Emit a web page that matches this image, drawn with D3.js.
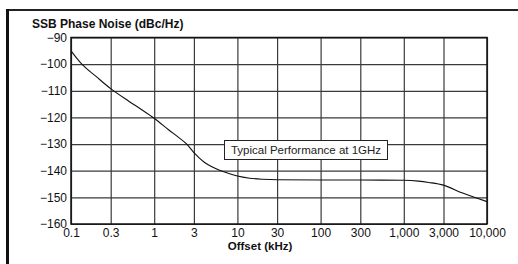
<!DOCTYPE html>
<html>
<head>
<meta charset="utf-8">
<script src="https://cdn.jsdelivr.net/npm/d3@7"></script>
<style>
  body { margin: 0; background: #fff; }
  svg { display: block; font-family: Arial, "Liberation Sans", Helvetica, sans-serif; }
  .grid line { stroke: #3a3a3a; stroke-width: 1.2; }
  .grid path { display: none; }
  .grid text { fill: #111; font-size: 12px; }
</style>
</head>
<body>
<svg width="518" height="264"></svg>
<script>
// offset in kHz and SSB phase noise in dBc/Hz
const offsets = [0.1, 0.135, 0.2, 0.3, 0.5, 0.7, 1, 1.5, 2, 2.46, 3, 4, 5, 6, 7, 10, 14, 20, 30, 100, 300, 1000, 1500, 2000, 3000, 5000, 10000];
const noise   = [-95, -100, -104.6, -109.2, -114, -117, -120.3, -124.7, -127.7, -130, -133.2, -136.8, -138.6, -139.7, -140.5, -142, -142.8, -143.2, -143.4, -143.5, -143.5, -143.6, -143.9, -144.4, -145.4, -148.3, -151.6];

const xTicks = [0.1, 0.3, 1, 3, 10, 30, 100, 300, 1000, 3000, 10000];
const xTickLabels = ["0.1", "0.3", "1", "3", "10", "30", "100", "300", "1,000", "3,000", "10,000"];
const yTicks = [-90, -100, -110, -120, -130, -140, -150, -160];

const svg = d3.select("svg");
const plotL = 71, plotR = 487, plotT = 37.5, plotB = 224;

const x = d3.scaleLog().domain([0.1, 10000]).range([plotL, plotR]);
const y = d3.scaleLinear().domain([-160, -90]).range([plotB, plotT]);

// outer frame (top and left only)
svg.append("line")
  .attr("x1", 7).attr("x2", 518).attr("y1", 10).attr("y2", 10)
  .attr("stroke", "#222").attr("stroke-width", 2);
svg.append("line")
  .attr("x1", 7.5).attr("x2", 7.5).attr("y1", 9).attr("y2", 264)
  .attr("stroke", "#111").attr("stroke-width", 3);

// grids + tick labels
svg.append("g")
  .attr("class", "grid")
  .attr("transform", `translate(0,${plotB})`)
  .call(d3.axisBottom(x)
    .tickValues(xTicks)
    .tickFormat((d, i) => xTickLabels[i])
    .tickSizeInner(-(plotB - plotT))
    .tickSizeOuter(0)
    .tickPadding(3))
  .selectAll("text").attr("dy", "0.85em");

svg.append("g")
  .attr("class", "grid")
  .attr("transform", `translate(${plotL},0)`)
  .call(d3.axisLeft(y)
    .tickValues(yTicks)
    .tickFormat(d3.format("d"))
    .tickSizeInner(-(plotR - plotL))
    .tickSizeOuter(0)
    .tickPadding(4));

// plot border
svg.append("rect")
  .attr("x", plotL).attr("y", plotT)
  .attr("width", plotR - plotL).attr("height", plotB - plotT)
  .attr("fill", "none").attr("stroke", "#111").attr("stroke-width", 1.5);

// noise curve
const line = d3.line()
  .x((d, i) => x(offsets[i]))
  .y(d => y(d))
  .curve(d3.curveMonotoneX);

svg.append("path")
  .datum(noise)
  .attr("d", line)
  .attr("fill", "none")
  .attr("stroke", "#111")
  .attr("stroke-width", 1.1);

// annotation box
svg.append("rect")
  .attr("x", 224.5).attr("y", 140.5)
  .attr("width", 163).attr("height", 19)
  .attr("fill", "#fff").attr("stroke", "#222").attr("stroke-width", 1);
svg.append("text")
  .attr("x", 306).attr("y", 154)
  .attr("text-anchor", "middle")
  .attr("font-size", 11.5)
  .attr("fill", "#222")
  .text("Typical Performance at 1GHz");

// titles
svg.append("text")
  .attr("x", 32).attr("y", 28)
  .attr("font-size", 12)
  .attr("font-weight", "bold")
  .attr("fill", "#111")
  .text("SSB Phase Noise (dBc/Hz)");

svg.append("text")
  .attr("x", 260).attr("y", 250)
  .attr("text-anchor", "middle")
  .attr("font-size", 11.5)
  .attr("font-weight", "bold")
  .attr("fill", "#111")
  .text("Offset (kHz)");
</script>
</body>
</html>
